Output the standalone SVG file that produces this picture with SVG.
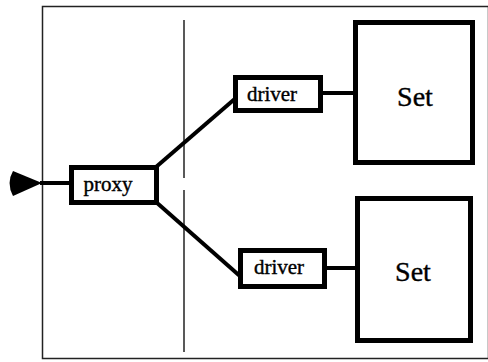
<svg xmlns="http://www.w3.org/2000/svg" width="488" height="362" viewBox="0 0 488 362">
<style>
.box{fill:#fff;stroke:#000;stroke-width:5}
.lbl{font-family:"Liberation Serif","Times New Roman",serif;font-size:21px;fill:#000;stroke:#000;stroke-width:0.4;text-anchor:middle}
.set{font-size:28px}
.conn{stroke:#000;stroke-width:4;fill:none}
.thin{stroke:#222;stroke-width:1.5;fill:none}
</style>
<rect x="0" y="0" width="488" height="362" fill="#fff"/>
<g id="frame">
<rect class="thin" x="42.5" y="6.5" width="446" height="352"/>
<line class="thin" x1="184" y1="20" x2="184" y2="178"/>
<line class="thin" x1="184" y1="190" x2="184" y2="352"/>
</g>
<g id="connectors">
<path d="M13,171 Q6,183 13,196 L42,183 Z" fill="#000"/>
<line class="conn" x1="40" y1="183" x2="70" y2="183" stroke-width="3"/>
<line class="conn" x1="156" y1="167" x2="237" y2="97"/>
<line class="conn" x1="156" y1="202" x2="241" y2="277"/>
<line class="conn" x1="322" y1="93" x2="356" y2="93" stroke-width="3"/>
<line class="conn" x1="326" y1="268" x2="357" y2="268" stroke-width="3"/>
</g>
<g id="proxy">
<rect class="box" x="71.5" y="167.5" width="85" height="35"/>
<text class="lbl" x="108" y="191">proxy</text>
</g>
<g id="driver1">
<rect class="box" x="235.5" y="77.5" width="85" height="33"/>
<text class="lbl" x="272" y="101">driver</text>
</g>
<g id="driver2">
<rect class="box" x="240.5" y="250.5" width="84" height="36"/>
<text class="lbl" x="279" y="274">driver</text>
</g>
<g id="set1">
<rect class="box" x="355.5" y="22.5" width="117" height="140"/>
<text class="lbl set" x="415" y="106">Set</text>
</g>
<g id="set2">
<rect class="box" x="357.5" y="198.5" width="113" height="142"/>
<text class="lbl set" x="413" y="281">Set</text>
</g>
</svg>
